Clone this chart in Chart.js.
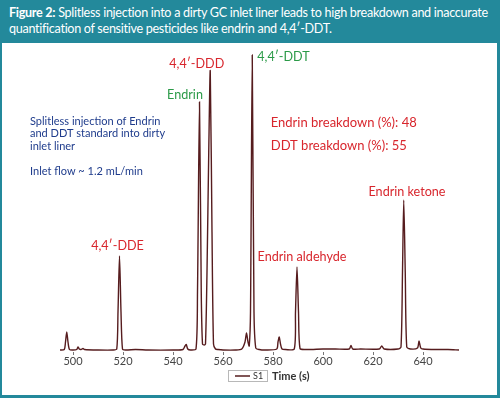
<!DOCTYPE html>
<html><head><meta charset="utf-8">
<script src="https://cdn.jsdelivr.net/npm/chart.js@4/dist/chart.umd.min.js"></script>
<style>
html,body{margin:0;padding:0;background:#fff;}
#frame{position:relative;width:500px;height:398px;background:#23899b;overflow:hidden;}
#hdr{position:absolute;left:9px;top:5px;width:495px;color:#fff;font-family:Lato,"Open Sans",sans-serif;font-size:12.6px;line-height:16px;letter-spacing:-0.3px;white-space:nowrap;}
#hdr b{font-weight:700;}
#panel{position:absolute;left:2px;top:43px;width:495px;height:352px;background:#fff;}
canvas{display:block;}
</style></head>
<body>
<div id="frame">
  <div id="hdr"><b>Figure 2:</b> Splitless injection into a dirty GC inlet liner leads to high breakdown and inaccurate<br>quantification of sensitive pesticides like endrin and 4,4′-DDT.</div>
  <div id="panel"><canvas id="c" width="495" height="352"></canvas></div>
</div>
<script>
// ---- data ----
const seriesName = "S1";
const axisTitle = "Time (s)";
const tickValues = [500, 520, 540, 560, 580, 600, 620, 640];
const timeS = [494.8,496.5,497.0,497.5,498.0,498.6,500,501.5,502.0,502.5,503.2,504.0,504.6,510,516,517.5,518.0,518.6,519.2,519.8,521,525,530,540,544,544.8,545.3,545.9,547,549.2,549.8,550.6,551.3,551.8,552.5,553.0,553.6,554.3,554.9,555.6,556.2,557,558,560,565,567.5,568.8,569.4,570.0,570.5,571.0,571.7,572.4,573.1,574.5,577,581.5,582.0,582.5,583.0,583.6,585,588.5,589.0,589.6,590.2,590.8,593,600,605,610.5,611.2,611.9,615,622.5,623.5,624.5,630,631.2,631.8,632.3,632.9,633.5,635,637.8,638.4,639.1,640,645,650,654.4];
const signal = [2,2.5,10,20,10,2.5,2,2.5,5,3,2.5,3.5,2.5,2,2,3,40,96,40,3,2,2.5,2,2,2.5,6,7.5,3,2,3,60,250,60,8,7,8,80,200,281,120,8,3,2.5,2,2,3,10,19,10,6,40,297,40,4,2.5,2,3,10,15,8,3,2.5,3,40,85,40,3.5,2.5,3,3,3,6.5,3,3,3,6,3,3,5,80,152,80,5,3,4,11,4,3,2.5,2.5,2];
const peakLabels = ["Endrin","4,4′-DDD","4,4′-DDT","4,4′-DDE","Endrin aldehyde","Endrin ketone"];
const peakLabelT = [544.8, 549.5, 584.2, 517.8, 591.6, 633.6];
const peakLabelV = [257, 288, 295, 106, 95, 160];
const peakLabelColor = ["green","red","green","red","red","red"];
const noteLines = ["Splitless injection of Endrin","and DDT standard into dirty","inlet liner","Inlet flow ~ 1.2 mL/min"];
const noteT = 482.8;
const noteV = [231, 219, 206, 181];
const breakdownLines = ["Endrin breakdown (%): 48","DDT breakdown (%): 55"];
const breakdownT = 579.1;
const breakdownV = [229, 206];

const COLORS = {red:"#d8262d", green:"#2b9a48", blue:"#1f3c8c", trace:"#561c1e"};
const FONT = 'Lato, "Open Sans", sans-serif';

const points = timeS.map((t,i)=>({x:t,y:signal[i]}));

const annot = {
  id:'annot',
  afterDatasetsDraw(chart){
    const ctx = chart.ctx, xs = chart.scales.x, ys = chart.scales.y;
    ctx.save();
    ctx.textBaseline = 'middle';
    // peak labels
    ctx.font = '12.6px ' + FONT;
    ctx.textAlign = 'center';
    peakLabels.forEach((s,i)=>{
      ctx.fillStyle = COLORS[peakLabelColor[i]];
      ctx.fillText(s, xs.getPixelForValue(peakLabelT[i]), ys.getPixelForValue(peakLabelV[i]));
    });
    // breakdown
    ctx.textAlign = 'left';
    ctx.font = '13px ' + FONT;
    ctx.fillStyle = COLORS.red;
    breakdownLines.forEach((s,i)=>ctx.fillText(s, xs.getPixelForValue(breakdownT), ys.getPixelForValue(breakdownV[i])));
    // notes
    ctx.font = '11px ' + FONT;
    ctx.fillStyle = COLORS.blue;
    noteLines.forEach((s,i)=>ctx.fillText(s, xs.getPixelForValue(noteT), ys.getPixelForValue(noteV[i])));
    // legend + axis title
    const ds = chart.data.datasets[0];
    const bx = xs.getPixelForValue(562), by = chart.chartArea.bottom + 18;
    ctx.strokeStyle = '#b8b8b8'; ctx.lineWidth = 1;
    ctx.strokeRect(Math.round(bx)+0.5, by+0.5, 39, 11);
    ctx.strokeStyle = COLORS.trace; ctx.lineWidth = 1.5;
    ctx.beginPath(); ctx.moveTo(bx+7, by+6); ctx.lineTo(bx+22, by+6); ctx.stroke();
    ctx.fillStyle = '#333'; ctx.font = '9px ' + FONT;
    ctx.fillText(ds.label, bx+25, by+6.5);
    ctx.font = 'bold 11px ' + FONT; ctx.fillStyle = '#333';
    ctx.fillText(axisTitle, bx+44, by+6.5);
    ctx.restore();
  }
};

new Chart(document.getElementById('c'), {
  type:'line',
  data:{datasets:[{label:seriesName, data:points, borderColor:COLORS.trace, borderWidth:1.4, pointRadius:0, tension:0.25, fill:false}]},
  options:{
    responsive:false, animation:false,
    layout:{padding:{left:56, right:34, top:9, bottom:23}},
    plugins:{legend:{display:false}, tooltip:{enabled:false}},
    scales:{
      x:{type:'linear', min:494, max:656,
         afterBuildTicks(s){ s.ticks = tickValues.map(v=>({value:v})); },
         afterFit(s){ s.height = 20; },
         grid:{drawOnChartArea:false, drawTicks:true, tickLength:3, color:'#777'},
         border:{display:false},
         ticks:{padding:0, color:'#444', font:{family:FONT, size:11}, maxRotation:0, autoSkip:false}},
      y:{display:false, min:0, max:300}
    }
  },
  plugins:[annot]
});
</script>
</body></html>
